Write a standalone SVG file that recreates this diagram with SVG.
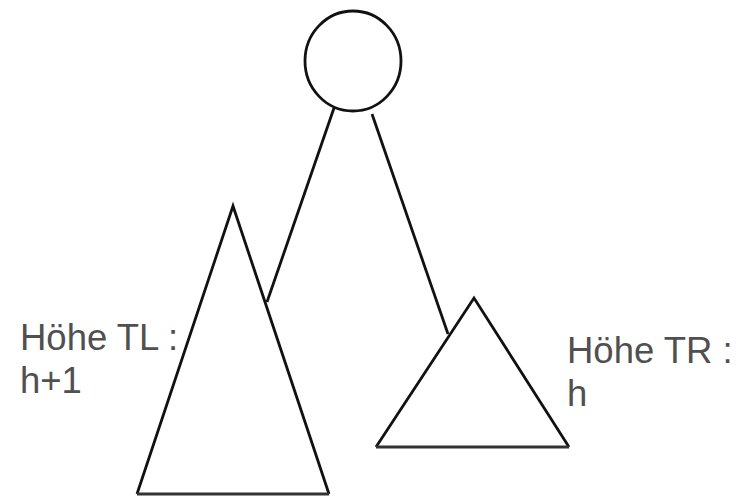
<svg xmlns="http://www.w3.org/2000/svg" width="749" height="496" viewBox="0 0 749 496">
<style>
.shape{fill:none;stroke:#111;stroke-width:2.8;stroke-linejoin:miter}
.base{stroke:#333;stroke-width:3.2}
.lbl{font-family:"Liberation Sans",Arial,sans-serif;font-size:36.5px;fill:#505050}
</style>
<rect width="749" height="496" fill="#fff"/>
<g id="connectors">
<line class="shape" x1="334" y1="108" x2="267" y2="302"/>
<line class="shape" x1="372" y1="114" x2="448" y2="334"/>
</g>
<g id="root">
<ellipse class="shape" cx="353" cy="61" rx="48" ry="50"/>
</g>
<g id="TL">
<polyline class="shape" points="137,494 233,206 329,494"/>
<line class="shape base" x1="137" y1="494" x2="329" y2="494"/>
<text class="lbl" x="20" y="350">Höhe TL :</text>
<text class="lbl" x="20" y="393">h+1</text>
</g>
<g id="TR">
<polyline class="shape" points="376,447 474,298 569,447"/>
<line class="shape base" x1="376" y1="447" x2="569" y2="447"/>
<text class="lbl" x="567" y="363">Höhe TR :</text>
<text class="lbl" x="567" y="406">h</text>
</g>
</svg>
